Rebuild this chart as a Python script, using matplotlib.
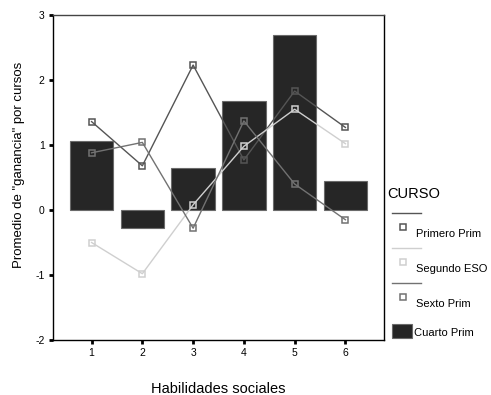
import matplotlib
matplotlib.use("Agg")
import matplotlib.pyplot as plt
from matplotlib.lines import Line2D
from matplotlib.patches import Rectangle

plt.rcParams["font.family"] = ["Liberation Sans", "DejaVu Sans"]
plt.rcParams["axes.unicode_minus"] = False

categorias = [1, 2, 3, 4, 5, 6]
cuarto_prim = [1.06, -0.27, 0.65, 1.68, 2.70, 0.45]
primero_prim = [1.36, 0.68, 2.23, 0.77, 1.83, 1.27]
segundo_eso = [-0.50, -0.98, 0.08, 0.98, 1.55, 1.02]
sexto_prim = [0.88, 1.04, -0.28, 1.37, 0.40, -0.15]
yticks = [-2, -1, 0, 1, 2, 3]

series = [
    ("Primero Prim", primero_prim, "#555555"),
    ("Segundo ESO", segundo_eso, "#cfcfcf"),
    ("Sexto Prim", sexto_prim, "#727272"),
]
bar_color = "#262626"

W, H = 491, 395
fig = plt.figure(figsize=(W / 100, H / 100), dpi=100)
ax = fig.add_axes([53 / W, 1 - 340 / H, 331 / W, 325 / H])

ax.bar(categorias, cuarto_prim, width=0.86, color=bar_color,
       edgecolor="#6a6a6a", linewidth=0.8, zorder=1)

for name, vals, col in series:
    ax.plot(categorias, vals, color=col, linewidth=1.0, marker="s",
            markersize=4.8, markerfacecolor="none", markeredgecolor=col,
            markeredgewidth=1.1, zorder=3)

ax.set_xlim(0.24, 6.76)
ax.set_ylim(-2, 3)
ax.set_xticks(categorias)
ax.set_yticks(yticks)
ax.tick_params(axis="both", direction="out", length=3, width=2,
               labelsize=7.5, pad=3)
for side in ["left", "bottom", "right", "top"]:
    ax.spines[side].set_linewidth(1.0)
ax.spines["top"].set_color("#444444")

ax.set_xlabel("Habilidades sociales", fontsize=10.5, labelpad=17)
ax.set_ylabel('Promedio de "ganancia" por cursos', fontsize=9.5)
ax.yaxis.set_label_coords(-0.085, 0.54)


def px(x, y):
    return x / W, 1 - y / H


# legend drawn SPSS style: line above, marker + label below
fig.text(*px(387, 194), "CURSO", fontsize=10.5, va="center", ha="left")
y0 = 213
for name, vals, col in series:
    (xa, ya), (xb, yb) = px(392, y0), px(421, y0)
    fig.add_artist(Line2D([xa, xb], [ya, yb], color=col, linewidth=1.0,
                          transform=fig.transFigure))
    mx, my = px(403, y0 + 14)
    fig.add_artist(Line2D([mx], [my], marker="s", markersize=4.8,
                          markerfacecolor="none", markeredgecolor=col,
                          markeredgewidth=1.1, transform=fig.transFigure))
    fig.text(*px(416, y0 + 21), name, fontsize=8, va="center", ha="left")
    y0 += 35

rx, ry = px(392, 338)
fig.add_artist(Rectangle((rx, ry), 20 / W, 14 / H, facecolor=bar_color,
                         edgecolor="#6a6a6a", linewidth=0.8,
                         transform=fig.transFigure))
fig.text(*px(414, 333), "Cuarto Prim", fontsize=8, va="center", ha="left")

fig.savefig("out.png", dpi=100)
